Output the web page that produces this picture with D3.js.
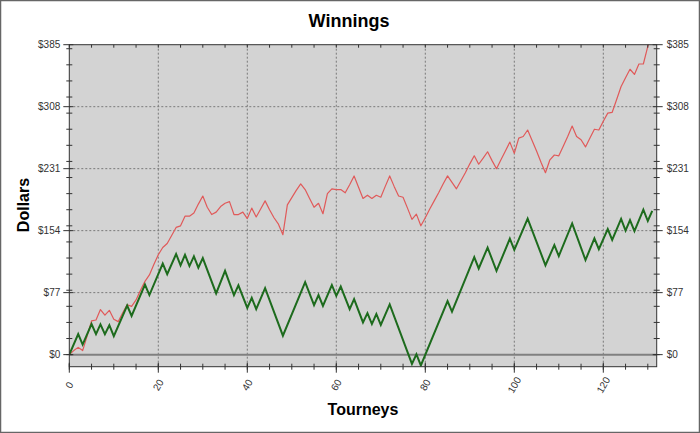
<!DOCTYPE html>
<html><head><meta charset="utf-8">
<script src="https://cdn.jsdelivr.net/npm/d3@7"></script>
<style>body{margin:0;background:#fff;}</style>
</head><body>
<svg id="chart" width="700" height="433"></svg>
<script>
// ---- data ----
const chartTitle = "Winnings";
const xTitle = "Tourneys";
const yTitle = "Dollars";
// red series: cumulative winnings per tourney (index = tourney number)
const redValues = [0,5,9,5,23,42,43,56,49,55,44,41,52,62,60,68,80,91,99,112,
  124,133,138,148,158,160,172,172,176,187,197,183,174,177,184,188,190,174,174,177,
  169,182,171,181,191,180,170,162,149,186,195,204,212,205,194,183,188,175,200,206,
  205,205,201,211,222,208,194,198,194,198,195.5,209,222,209,197,195.5,182,168,174.5,160,
  170,181,191,201,212,222,214,206,216,226,237,247,236.5,244,252,241,231,242,253,264,
  250,269,271,279,266,253,239,226,242,248,247,259,271,284,271,267,258,269,280,279,
  290,300,301,317,333,344,354.5,348,361,361,383,395];
// green series: turning points (tourney, dollars)
const greenTourneys = [0,2,3,5,6,7,8,9,10,13,14,17,18,21,22,24,25,26,27,28,29,30,33,35,37,38,40,41,42,44,48,53,55,56,57,59,60,61,63,64,66,67,68,69,70,72,77,78,79,85,86,91,92,94,96,99,100,103,107,109,110,113,116,118,119,121,122,124,125,126,127,129,130,131];
const greenValues = [0,25.5,12.5,38,25.5,37.5,25.5,36.5,23,61,48,87,74,113,100,125,111,124,110,122,108,120,76,104,74,86,58,70.5,56.5,82.5,23.5,90,61.5,74,60.5,86.5,73,84.5,56.5,69,40,51.5,38,50.5,37,62.5,-11.5,0.5,-13.5,66.5,53.5,121,107,133,104,144,130,169,111,136,122.5,163,117.5,144.5,131,156,142.5,168.5,154,167,153.5,180,166,178.5];
const yMajorTicks = [0,77,154,231,308,385];
const yMinorTicks = [0,20,40,60,80,100,120,140,160,180,200,220,240,260,280,300,320,340,360,380];
const xMajorTicks = [0,20,40,60,80,100,120];
const xMinorTicks = [0,5,10,15,20,25,30,35,40,45,50,55,60,65,70,75,80,85,90,95,100,105,110,115,120,125,130];
const xDomain = [0,132];
const yDomain = [-15,385];

// ---- layout ----
const svg = d3.select("#chart");
const L = 69.3, R = 656.7, T = 44.7, B = 366.7;
const x = d3.scaleLinear().domain(xDomain).range([L,R]);
const y = d3.scaleLinear().domain(yDomain).range([B,T]);

// outer frame
svg.append("rect").attr("x",0.5).attr("y",0.5).attr("width",699).attr("height",432)
  .attr("fill","#fff").attr("stroke","#666").attr("stroke-width",1.5);

// plot background
svg.append("rect").attr("x",L).attr("y",T).attr("width",R-L).attr("height",B-T).attr("fill","#d3d3d3");

const defs = svg.append("defs");
defs.append("clipPath").attr("id","clip").append("rect")
  .attr("x",L).attr("y",T).attr("width",R-L).attr("height",B-T);

// grid
const grid = svg.append("g");
grid.selectAll("line.gx").data(xMajorTicks.filter(d=>d>0)).join("line")
  .attr("x1",d=>x(d)).attr("x2",d=>x(d)).attr("y1",T).attr("y2",B)
  .attr("stroke","#7a7a7a").attr("stroke-width",1).attr("stroke-dasharray","2,2");
grid.selectAll("line.gy").data(yMajorTicks.filter(d=>d>0 && d<385)).join("line")
  .attr("x1",L).attr("x2",R).attr("y1",d=>y(d)).attr("y2",d=>y(d))
  .attr("stroke","#7a7a7a").attr("stroke-width",1).attr("stroke-dasharray","2,2");
// zero line
svg.append("line").attr("x1",L).attr("x2",R).attr("y1",y(0)).attr("y2",y(0))
  .attr("stroke","#808080").attr("stroke-width",2);

// series
const plot = svg.append("g").attr("clip-path","url(#clip)");
const redLine = d3.line().x((d,i)=>x(i)).y(d=>y(d));
plot.append("path").datum(redValues).attr("d",redLine)
  .attr("fill","none").attr("stroke","#e05a5a").attr("stroke-width",1.2).attr("stroke-linejoin","round");
const greenData = greenTourneys.map((t,i)=>[t,greenValues[i]]);
const greenLine = d3.line().x(d=>x(d[0])).y(d=>y(d[1]));
plot.append("path").datum(greenData).attr("d",greenLine)
  .attr("fill","none").attr("stroke","#1d6b1d").attr("stroke-width",2).attr("stroke-linejoin","miter");

// plot border
svg.append("rect").attr("x",L).attr("y",T).attr("width",R-L).attr("height",B-T)
  .attr("fill","none").attr("stroke","#333").attr("stroke-width",1);

// ticks
const tk = svg.append("g").attr("stroke","#333").attr("stroke-width",1);
// bottom
tk.selectAll("line.bm").data(xMinorTicks).join("line")
  .attr("x1",d=>x(d)).attr("x2",d=>x(d)).attr("y1",B-3).attr("y2",B+3);
tk.selectAll("line.bM").data(xMajorTicks).join("line")
  .attr("x1",d=>x(d)).attr("x2",d=>x(d)).attr("y1",B-4).attr("y2",B+6);
// top
tk.selectAll("line.tm").data(xMinorTicks).join("line")
  .attr("x1",d=>x(d)).attr("x2",d=>x(d)).attr("y1",T).attr("y2",T+3);
// left & right minor
tk.selectAll("line.lm").data(yMinorTicks).join("line")
  .attr("x1",L-3).attr("x2",L+3).attr("y1",d=>y(d)).attr("y2",d=>y(d));
tk.selectAll("line.rm").data(yMinorTicks).join("line")
  .attr("x1",R-3).attr("x2",R+3).attr("y1",d=>y(d)).attr("y2",d=>y(d));
tk.selectAll("line.lM").data(yMajorTicks).join("line")
  .attr("x1",L-6).attr("x2",L+4).attr("y1",d=>y(d)).attr("y2",d=>y(d));
tk.selectAll("line.rM").data(yMajorTicks).join("line")
  .attr("x1",R-4).attr("x2",R+6).attr("y1",d=>y(d)).attr("y2",d=>y(d));

// tick labels
const fmt = d=>"$"+d;
svg.append("g").selectAll("text").data(yMajorTicks).join("text")
  .attr("x",L-9).attr("y",d=>y(d)).attr("dy","0.35em").attr("text-anchor","end")
  .attr("font-family","Liberation Sans, Arial, sans-serif").attr("font-size",10).attr("fill","#333")
  .text(fmt);
svg.append("g").selectAll("text").data(yMajorTicks).join("text")
  .attr("x",R+10).attr("y",d=>y(d)).attr("dy","0.35em").attr("text-anchor","start")
  .attr("font-family","Liberation Sans, Arial, sans-serif").attr("font-size",10).attr("fill","#333")
  .text(fmt);
svg.append("g").selectAll("text").data(xMajorTicks).join("text")
  .attr("transform",d=>`translate(${x(d)},385) rotate(-60)`)
  .attr("text-anchor","middle").attr("dy","0.35em")
  .attr("font-family","Liberation Sans, Arial, sans-serif").attr("font-size",10).attr("fill","#333")
  .text(d=>d);

// titles
svg.append("text").attr("x",349).attr("y",27).attr("text-anchor","middle")
  .attr("font-family","Liberation Sans, Arial, sans-serif").attr("font-weight","bold").attr("font-size",18)
  .attr("fill","#000").text(chartTitle);
svg.append("text").attr("x",363).attr("y",415).attr("text-anchor","middle")
  .attr("font-family","Liberation Sans, Arial, sans-serif").attr("font-weight","bold").attr("font-size",16)
  .attr("fill","#000").text(xTitle);
svg.append("text").attr("transform","translate(28.5,205) rotate(-90)").attr("text-anchor","middle")
  .attr("font-family","Liberation Sans, Arial, sans-serif").attr("font-weight","bold").attr("font-size",16)
  .attr("fill","#000").text(yTitle);
</script>
</body></html>
